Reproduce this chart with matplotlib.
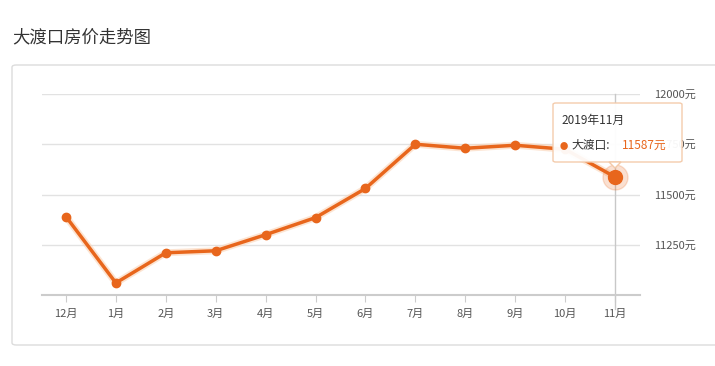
import matplotlib
matplotlib.use("Agg")
import matplotlib.pyplot as plt
from matplotlib.patches import FancyBboxPatch, Polygon

plt.rcParams['font.family'] = ['Noto Sans CJK SC', 'DejaVu Sans']

# data
months = ["12月", "1月", "2月", "3月", "4月", "5月", "6月", "7月", "8月", "9月", "10月", "11月"]
prices = [11390, 11060, 11210, 11220, 11300, 11385, 11530, 11750, 11730, 11745, 11725, 11587]
yticks = [11250, 11500, 11750, 12000]
title = "大渡口房价走势图"
tip_title = "2019年11月"
tip_name = "大渡口:"

orange = "#e8661c"

fig = plt.figure(figsize=(7.15, 3.66), dpi=100)
fig.text(12 / 715, 1 - 37 / 366, title, fontsize=12.5, color="#333333", va="center", ha="left")

# outer panel
panel = FancyBboxPatch((12 / 715, 1 - 345 / 366), 720 / 715, 280 / 366,
                       boxstyle="round,pad=0,rounding_size=0.006",
                       transform=fig.transFigure, facecolor="white", edgecolor="#dcdcdc", lw=1,
                       zorder=-1)
fig.patches.append(panel)

ax = fig.add_axes([42 / 715, 1 - 295 / 366, 598 / 715, 201 / 366])
ax.set_facecolor("none")
x = list(range(len(months)))
ax.set_xlim(-0.48, 11.5)
ax.set_ylim(11000, 12000)

for s in ["top", "left", "right"]:
    ax.spines[s].set_visible(False)
ax.spines["bottom"].set_color("#cccccc")
ax.spines["bottom"].set_linewidth(1.5)

ax.set_yticks(yticks)
ax.set_yticklabels([f"{v}元" for v in yticks])
ax.yaxis.tick_right()
ax.tick_params(axis="y", length=0, pad=10, labelsize=8, labelcolor="#555555")
ax.set_xticks(x)
ax.set_xticklabels(months)
ax.tick_params(axis="x", length=5, color="#cccccc", pad=5, labelsize=8, labelcolor="#555555")
ax.grid(axis="y", color="#e2e2e2", lw=1)
ax.set_axisbelow(True)

# crosshair
ax.axvline(x[-1], color="#c8c8c8", lw=1, ymin=-0.07, clip_on=False, zorder=1)

ax.plot(x, prices, color="#fbd3b5", lw=5, alpha=0.6, solid_capstyle="round", zorder=2)
ax.plot(x, prices, color=orange, lw=2.5, marker="o", ms=6, zorder=3)
ax.plot(x[-1], prices[-1], "o", color=orange, ms=18, alpha=0.2, zorder=3)
ax.plot(x[-1], prices[-1], "o", color=orange, ms=10, zorder=4)

# tooltip
tx0, ty0, tw, th = 553 / 715, 1 - 162 / 366, 129 / 715, 59 / 366
tip = FancyBboxPatch((tx0, ty0), tw, th, boxstyle="round,pad=0,rounding_size=0.004",
                     transform=fig.transFigure, facecolor="white", edgecolor="#f3c9a8",
                     lw=1, alpha=0.95, zorder=10)
fig.patches.append(tip)
px = 615 / 715
tri = Polygon([(px - 6 / 715, ty0), (px + 6 / 715, ty0), (px, ty0 - 6 / 366)], closed=True,
              transform=fig.transFigure, facecolor="white", edgecolor="#f3c9a8", lw=1, zorder=11)
fig.patches.append(tri)
fig.text(561 / 715, 1 - 120 / 366, tip_title, fontsize=8.5, color="#333333", va="center", zorder=12)
fig.text(564 / 715, 1 - 146 / 366, "●", fontsize=6, color=orange, va="center", ha="center", zorder=12)
fig.text(571 / 715, 1 - 145 / 366, tip_name, fontsize=8.5, color="#333333", va="center", zorder=12)
fig.text(622 / 715, 1 - 145 / 366, f"{prices[-1]}元", fontsize=8.5, color=orange, va="center", zorder=12)

fig.savefig("out.png", dpi=100)
